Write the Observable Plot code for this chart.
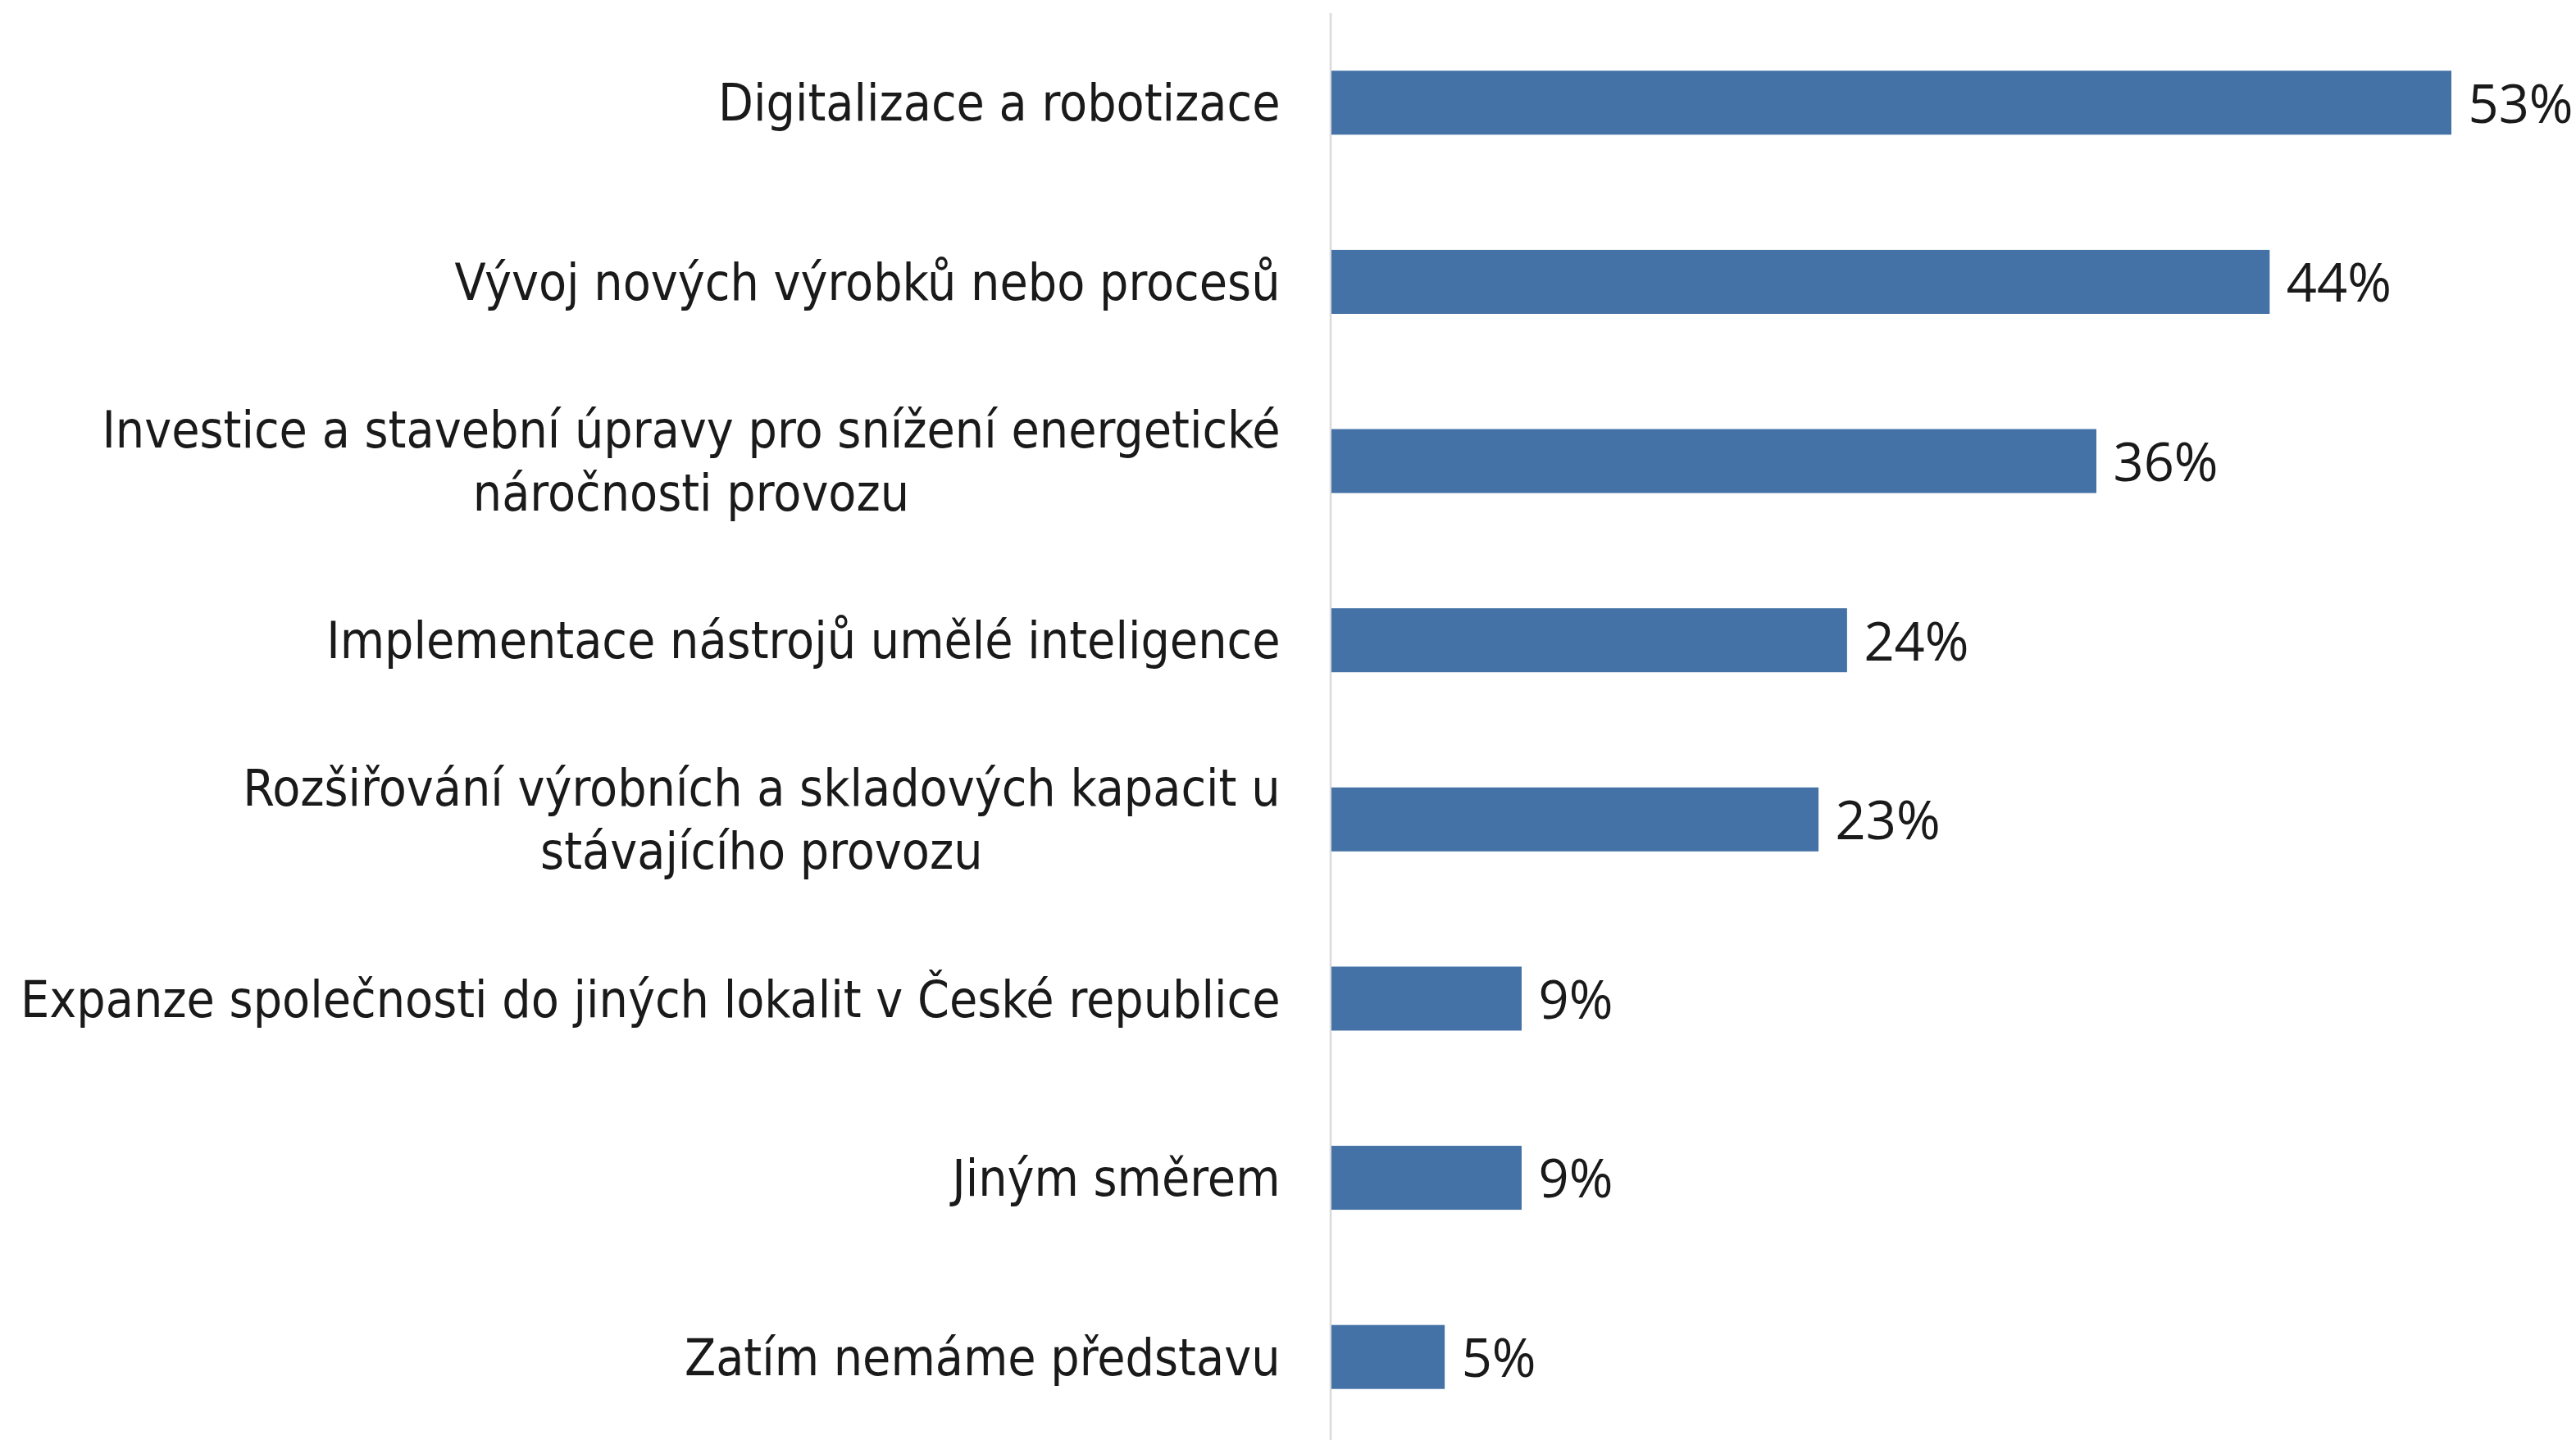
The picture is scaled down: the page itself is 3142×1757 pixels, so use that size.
<!DOCTYPE html>
<html>
<head>
<meta charset="utf-8">
<script src="https://cdn.jsdelivr.net/npm/d3@7"></script>
<script src="https://cdn.jsdelivr.net/npm/@observablehq/plot@0.6"></script>
<style>
  html, body { margin: 0; padding: 0; background: #ffffff; }
  #chart { width: 3142px; height: 1757px; overflow: hidden; }
</style>
</head>
<body>
<div id="chart"></div>
<script>
// Categories (top to bottom), with line breaks as in the reference
const categories = [
  "Digitalizace a robotizace",
  "Vývoj nových výrobků nebo procesů",
  "Investice a stavební úpravy pro snížení energetické\nnáročnosti provozu",
  "Implementace nástrojů umělé inteligence",
  "Rozšiřování výrobních a skladových kapacit u\nstávajícího provozu",
  "Expanze společnosti do jiných lokalit v České republice",
  "Jiným směrem",
  "Zatím nemáme představu"
];
// Share of respondents (%)
const values = [53.0, 44.4, 36.2, 24.4, 23.05, 9.0, 9.0, 5.36];
// Labels shown at the bar ends
const valueLabels = ["53%", "44%", "36%", "24%", "23%", "9%", "9%", "5%"];

const data = categories.map((c, i) => ({ category: c, value: values[i], label: valueLabels[i] }));

const W = 3142, H = 1757;
const barColor = "#4472a6";
const textColor = "#1a1a1a";

const svg = Plot.plot({
  width: W,
  height: H,
  marginLeft: 1624,
  marginRight: 152,
  marginTop: 16,
  marginBottom: 0,
  style: { background: "#ffffff", overflow: "visible" },
  x: { domain: [0, 53], axis: null },
  y: {
    domain: categories,
    range: [16, 1765],
    paddingInner: 0.643,
    paddingOuter: 0.3215,
    round: false,
    axis: null
  },
  marks: [
    Plot.ruleX([0], { stroke: "#d9d9d9", strokeWidth: 2.5, dx: -1.5 }),
    Plot.barX(data, { y: "category", x: "value", fill: barColor }),
    Plot.text(data, {
      y: "category",
      x: "value",
      text: "label",
      textAnchor: "start",
      dx: 20,
      dy: 3,
      fontSize: 65,
      fontFamily: "'Open Sans', 'Noto Sans', sans-serif",
      fill: textColor
    }),
    Plot.text(data, {
      y: "category",
      text: "category",
      frameAnchor: "left",
      textAnchor: "end",
      dx: -63,
      dy: -3,
      lineHeight: 1.24,
      fontSize: 62,
      fontFamily: "'DejaVu Sans Condensed', 'DejaVu Sans', sans-serif",
      fill: textColor
    })
  ]
});

document.getElementById("chart").append(svg);

// Center the lines of multi-line category labels within their right-aligned block
svg.querySelectorAll("text").forEach(t => {
  const spans = t.querySelectorAll("tspan");
  if (spans.length > 1) {
    const w = Math.max(...Array.from(spans).map(s => s.getComputedTextLength()));
    t.setAttribute("text-anchor", "middle");
    spans.forEach(s => {
      const base = parseFloat(s.getAttribute("x")) || 0;
      s.setAttribute("x", base - w / 2);
    });
  }
});
</script>
</body>
</html>
